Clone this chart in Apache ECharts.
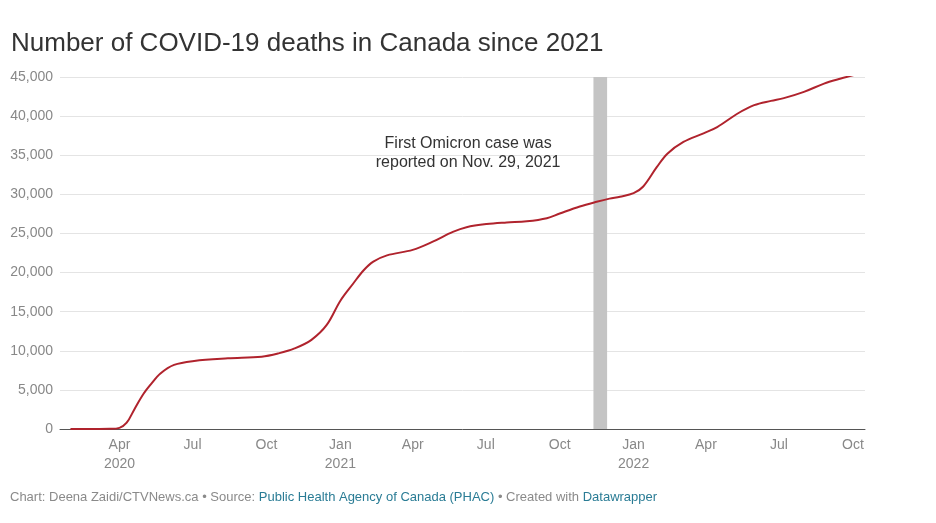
<!DOCTYPE html>
<html lang="en">
<head>
    <meta charset="UTF-8">
    <title>Number of COVID-19 deaths in Canada since 2021</title>
    <style>
        html, body { margin: 0; padding: 0; background: #fff; }
        #chart { width: 936px; height: 523px; }
    </style>
</head>
<body>
    <div id="chart"></div>
</body>
<script type="text/javascript" src="https://cdn.jsdelivr.net/npm/echarts@6/dist/echarts.min.js"></script>
<script>
    // cumulative deaths
    var dates = [
        '2020-01-31', '2020-03-01', '2020-03-20', '2020-04-01', '2020-04-10', '2020-04-20',
        '2020-05-01', '2020-05-10', '2020-05-22', '2020-06-08', '2020-07-03', '2020-08-14',
        '2020-09-25', '2020-10-16', '2020-11-05', '2020-11-26', '2020-12-15', '2021-01-01',
        '2021-01-17', '2021-01-30', '2021-02-11', '2021-02-28', '2021-04-01', '2021-04-26',
        '2021-05-21', '2021-06-07', '2021-07-02', '2021-07-27', '2021-08-21', '2021-09-15',
        '2021-10-01', '2021-10-26', '2021-11-16', '2021-12-02', '2021-12-15', '2022-01-01',
        '2022-01-13', '2022-01-30', '2022-02-12', '2022-03-04', '2022-03-29', '2022-04-15',
        '2022-05-10', '2022-05-31', '2022-06-21', '2022-07-07', '2022-08-01', '2022-08-26',
        '2022-09-16', '2022-10-02'
    ];
    var deaths = [
        0, 0, 20, 150, 800, 2600,
        4500, 5700, 7100, 8200, 8700, 9030,
        9240, 9670, 10300, 11400, 13300, 16400,
        18600, 20300, 21400, 22200, 22900, 23950,
        25200, 25800, 26200, 26400, 26550, 26950,
        27550, 28450, 29050, 29450, 29700, 30150,
        31000, 33500, 35200, 36700, 37800, 38600,
        40300, 41400, 41950, 42300, 43100, 44150,
        44800, 45250
    ];
    // quarter ticks on the x axis
    var tickDates = ['2020-04-01', '2020-07-01', '2020-10-01', '2021-01-01', '2021-04-01',
        '2021-07-01', '2021-10-01', '2022-01-01', '2022-04-01', '2022-07-01', '2022-10-01'];
    var monthNames = ['Jan', 'Feb', 'Mar', 'Apr', 'May', 'Jun', 'Jul', 'Aug', 'Sep', 'Oct', 'Nov', 'Dec'];
    var omicronBand = ['2021-11-12', '2021-11-29'];
    var noteText = 'First Omicron case was\nreported on Nov. 29, 2021';

    function toTime(s) {
        var p = s.split('-');
        return new Date(+p[0], +p[1] - 1, +p[2]).getTime();
    }

    var seriesData = [];
    for (var i = 0; i < dates.length; i++) {
        seriesData.push([toTime(dates[i]), deaths[i]]);
    }
    var tickValues = tickDates.map(toTime);

    var chart = echarts.init(document.getElementById('chart'), null, { renderer: 'canvas' });
    var font = '"Liberation Sans", Arial, sans-serif';

    var option = {
        backgroundColor: '#fff',
        animation: false,
        textStyle: { fontFamily: font },
        title: {
            text: 'Number of COVID-19 deaths in Canada since 2021',
            left: 6, top: 26,
            textStyle: { fontSize: 26, fontWeight: 'normal', color: '#333', fontFamily: font }
        },
        graphic: [{
            type: 'text', left: 10, top: 491,
            style: {
                text: '{g|Chart: Deena Zaidi/CTVNews.ca • Source: }{l|Public Health Agency of Canada (PHAC)}{g| • Created with }{l|Datawrapper}',
                rich: {
                    g: { fontSize: 13, fill: '#8a8a8a', fontFamily: font },
                    l: { fontSize: 13, fill: '#2a7c95', fontFamily: font }
                }
            }
        }],
        grid: { left: 60, right: 71, top: 77, bottom: 94 },
        xAxis: {
            type: 'value',
            min: toTime('2020-01-18'),
            max: toTime('2022-10-16'),
            axisLine: { lineStyle: { color: '#555', width: 1 } },
            axisTick: { show: false },
            splitLine: { show: false },
            axisLabel: {
                customValues: tickValues,
                showMinLabel: true, showMaxLabel: true,
                color: '#888', fontSize: 14, lineHeight: 19, margin: 7,
                hideOverlap: false,
                formatter: function (v) {
                    var d = new Date(v);
                    var m = d.getMonth();
                    var s = monthNames[m];
                    if (m === 0 || (d.getFullYear() === 2020 && m === 3)) s += '\n' + d.getFullYear();
                    return s;
                }
            }
        },
        yAxis: {
            type: 'value',
            min: 0, max: 45000, interval: 5000,
            axisLine: { show: false },
            axisTick: { show: false },
            axisLabel: {
                color: '#888', fontSize: 14, margin: 7,
                formatter: function (v) { return v.toLocaleString('en-US'); }
            },
            splitLine: { lineStyle: { color: '#e4e4e4', width: 1 } }
        },
        series: [{
            name: 'Deaths',
            type: 'line',
            data: seriesData,
            smooth: 0.35,
            showSymbol: false,
            lineStyle: { color: '#b0232d', width: 2 },
            z: 3,
            markArea: {
                silent: true,
                itemStyle: { color: '#c4c4c4' },
                data: [[{ xAxis: toTime(omicronBand[0]), yAxis: 0 }, { xAxis: toTime(omicronBand[1]), yAxis: 45400 }]]
            },
            markPoint: {
                silent: true,
                symbol: 'circle', symbolSize: 0,
                label: {
                    show: true, position: 'inside',
                    color: '#333', fontSize: 16, lineHeight: 19, align: 'center',
                    fontFamily: font,
                    formatter: noteText
                },
                data: [{ coord: [toTime('2021-06-09'), 35300] }]
            }
        }]
    };
    chart.setOption(option);
</script>
</html>
